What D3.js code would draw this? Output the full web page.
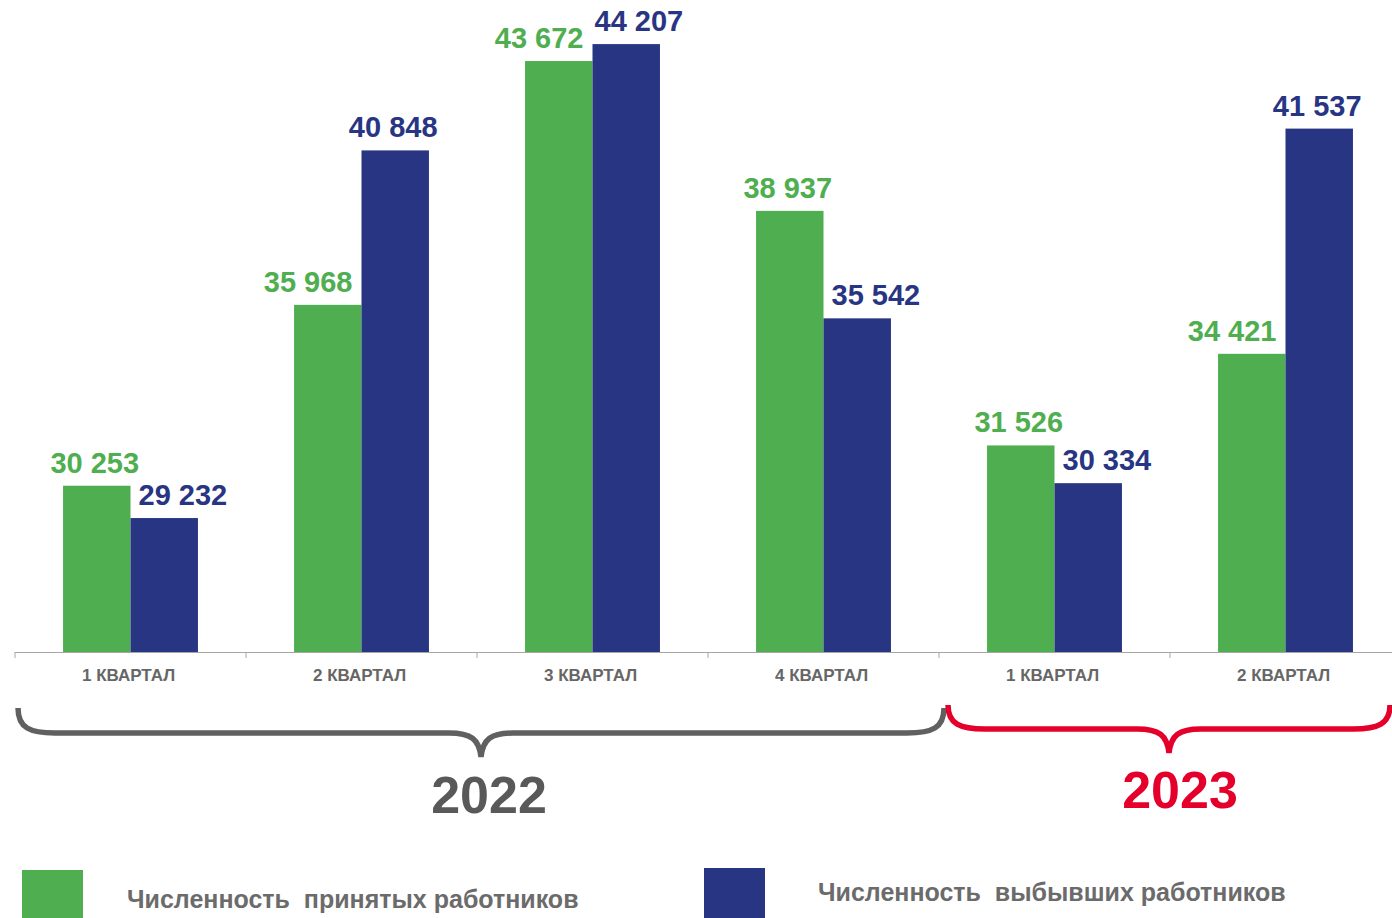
<!DOCTYPE html>
<html>
<head>
<meta charset="utf-8">
<script src="https://cdn.jsdelivr.net/npm/d3@7"></script>
<style>
  body { margin: 0; background: #fff; }
  svg { display: block; font-family: "Liberation Sans", Arial, sans-serif; }
</style>
</head>
<body>
<div id="chart"></div>
<script>
// data
var quarters = ['1 КВАРТАЛ', '2 КВАРТАЛ', '3 КВАРТАЛ', '4 КВАРТАЛ', '1 КВАРТАЛ', '2 КВАРТАЛ'];
var hired = [30253, 35968, 43672, 38937, 31526, 34421];
var left = [29232, 40848, 44207, 35542, 30334, 41537];
var seriesNames = ['Численность  принятых работников', 'Численность  выбывших работников'];
var years = [
  { label: '2022', from: 0, to: 3 },
  { label: '2023', from: 4, to: 5 }
];

var width = 1392, height = 918;
var green = '#4fae50', blue = '#283583';
var yearColors = ['#606060', '#e4002b'];

var svg = d3.select('#chart').append('svg')
  .attr('width', width)
  .attr('height', height);

// scales
var x = d3.scaleBand().domain(d3.range(quarters.length)).range([15, 15 + 6 * 231]);
var bw = x.bandwidth();
var xs = d3.scaleBand().domain([0, 1]).range([bw * 0.208, bw - bw * 0.208]);
var y = d3.scaleLinear().domain([25000, 45600]).range([652, 0]);

var rows = quarters.map(function(q, i) { return { i: i, vals: [hired[i], left[i]] }; });

// bars
var groups = svg.selectAll('g.grp')
  .data(rows)
  .enter().append('g')
  .attr('class', 'grp')
  .attr('transform', function(d) { return 'translate(' + x(d.i) + ',0)'; });

groups.selectAll('rect')
  .data(function(d) { return d.vals; })
  .enter().append('rect')
  .attr('x', function(d, j) { return xs(j); })
  .attr('y', function(d) { return y(d); })
  .attr('width', xs.bandwidth())
  .attr('height', function(d) { return 652 - y(d); })
  .style('fill', function(d, j) { return j ? blue : green; });

// axis
var xAxis = d3.axisBottom(x).tickSize(0).tickFormat(function(i) { return quarters[i]; });
var ax = svg.append('g')
  .attr('transform', 'translate(0,652)')
  .call(xAxis);
ax.select('.domain').remove();
ax.append('line').attr('x1', 15).attr('x2', width).attr('y1', 0.5).attr('y2', 0.5)
  .attr('stroke', '#a6a6a6').attr('stroke-width', 1.2);
ax.selectAll('line.tk')
  .data(d3.range(quarters.length + 1))
  .enter().append('line')
  .attr('class', 'tk')
  .attr('x1', function(i) { return 15 + i * bw; })
  .attr('x2', function(i) { return 15 + i * bw; })
  .attr('y1', 0).attr('y2', 6)
  .attr('stroke', '#a6a6a6');
ax.selectAll('.tick text')
  .attr('x', -2)
  .attr('y', 29)
  .attr('dy', 0)
  .style('font-size', '17px')
  .style('font-weight', 'bold')
  .style('font-family', '"Liberation Sans", Arial, sans-serif')
  .style('fill', '#666');

// value labels with simple overlap avoidance
var fmt = function(v) { return d3.format(',')(v).replace(/,/g, ' '); };
rows.forEach(function(d) {
  var x0 = x(d.i);
  var labs = d.vals.map(function(v, j) {
    var t = svg.append('text')
      .attr('text-anchor', 'start')
      .style('font-size', '29px')
      .style('font-weight', 'bold')
      .style('fill', j ? blue : green)
      .text(fmt(v));
    var w = t.node().getComputedTextLength();
    var cx = x0 + xs(j) + xs.bandwidth() / 2;
    return { t: t, w: w, l: cx - w / 2 - 2, base: y(v) - 13 };
  });
  var g = labs[0], b = labs[1];
  var blueX = x0 + xs(1), greenR = x0 + xs(0) + xs.bandwidth();
  if (y(d.vals[1]) < g.base && g.l + g.w > blueX - 9) g.l = blueX - 9 - g.w;
  if (y(d.vals[0]) < b.base && b.l < greenR + 8) b.l = greenR + 8;
  if (Math.abs(g.base - b.base) < 24 && g.l + g.w + 10 > b.l) b.l = g.l + g.w + 11;
  labs.forEach(function(o) { o.t.attr('x', o.l).attr('y', o.base); });
});

// year braces
years.forEach(function(yr, k) {
  var xa = x(yr.from) + (k ? 9 : 3);
  var xb = x(yr.to) + bw + 5;
  if (xb > width - 2) xb = width - 2;
  var top = k ? 705 : 708, mid = k ? 729 : 733, tip = k ? 753 : 757;
  var xm = (xa + xb) / 2;
  var p = d3.path();
  p.moveTo(xa, top);
  p.bezierCurveTo(xa, mid - 5, xa + 12, mid, xa + 37, mid);
  p.lineTo(xm - 32, mid);
  p.bezierCurveTo(xm - 10, mid, xm - 2, mid + 6, xm, tip);
  p.bezierCurveTo(xm + 2, mid + 6, xm + 10, mid, xm + 32, mid);
  p.lineTo(xb - 37, mid);
  p.bezierCurveTo(xb - 12, mid, xb, mid - 5, xb, top);
  svg.append('path')
    .attr('d', p.toString())
    .attr('fill', 'none')
    .attr('stroke', yearColors[k])
    .attr('stroke-width', 5.5);
  svg.append('text')
    .attr('x', xm + (k ? 11 : 8))
    .attr('y', k ? 808 : 813)
    .attr('text-anchor', 'middle')
    .style('font-size', '52px')
    .style('font-weight', 'bold')
    .style('fill', k ? '#e4002b' : '#595959')
    .text(yr.label);
});

// legend
var legend = [
  { name: seriesNames[0], color: green, x: 22, y: 870, tx: 127, ty: 908 },
  { name: seriesNames[1], color: blue, x: 704, y: 868, tx: 818, ty: 901 }
];
legend.forEach(function(l) {
  svg.append('rect').attr('x', l.x).attr('y', l.y).attr('width', 61).attr('height', 50)
    .style('fill', l.color);
  svg.append('text').attr('x', l.tx).attr('y', l.ty)
    .style('font-size', '25px')
    .style('font-weight', 'bold')
    .style('fill', '#6b6b6b')
    .style('white-space', 'pre')
    .attr('xml:space', 'preserve')
    .text(l.name);
});
</script>
</body>
</html>
